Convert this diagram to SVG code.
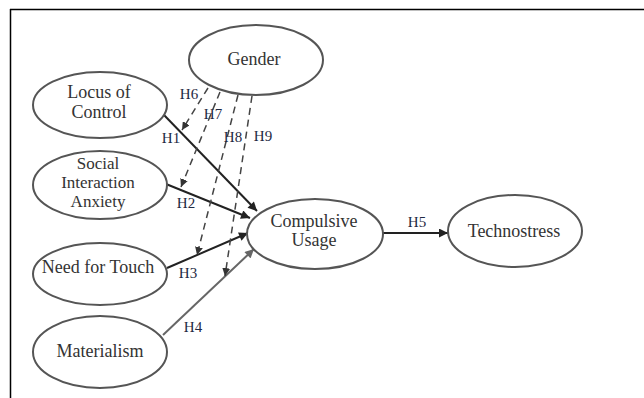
<svg xmlns="http://www.w3.org/2000/svg" width="644" height="398" viewBox="0 0 644 398">
<defs>
<style>
.node{fill:#fff;stroke:#555;stroke-width:2}
.lbl{font-family:"Liberation Serif","DejaVu Serif",serif;font-size:18px;fill:#333;text-anchor:middle}
.sm{font-size:17px}
.h{font-family:"Liberation Serif","DejaVu Serif",serif;font-size:15px;fill:#1f2a44;text-anchor:middle}
.solid{stroke:#222;stroke-width:2;fill:none}
.gray{stroke:#666;stroke-width:2;fill:none}
.dash{stroke:#444;stroke-width:1.5;fill:none;stroke-dasharray:7 5}
</style>
<marker id="a" viewBox="0 0 10 10" refX="10" refY="5" markerWidth="10" markerHeight="9" markerUnits="userSpaceOnUse" orient="auto"><path d="M0,0 L10,5 L0,10 z" fill="#222"/></marker>
<marker id="ag" viewBox="0 0 10 10" refX="10" refY="5" markerWidth="10" markerHeight="9" markerUnits="userSpaceOnUse" orient="auto"><path d="M0,0 L10,5 L0,10 z" fill="#666"/></marker>
<marker id="ad" viewBox="0 0 10 10" refX="10" refY="5" markerWidth="8" markerHeight="8" markerUnits="userSpaceOnUse" orient="auto"><path d="M0,0 L10,5 L0,10 z" fill="#333"/></marker>
</defs>
<rect width="644" height="398" fill="#fff"/>
<g id="frame" stroke="#000" stroke-width="1.5" fill="none">
<line x1="10" y1="9.5" x2="644" y2="9.5"/>
<line x1="10.5" y1="9" x2="10.5" y2="398"/>
</g>
<g id="connectors">
<line class="solid" x1="164" y1="115" x2="257" y2="211" marker-end="url(#a)"/>
<line class="solid" x1="166" y1="184" x2="250" y2="218" marker-end="url(#a)"/>
<line class="solid" x1="167" y1="268" x2="248" y2="233" marker-end="url(#a)"/>
<line class="gray" x1="163" y1="335" x2="254" y2="249" marker-end="url(#ag)"/>
<line class="solid" x1="383" y1="233" x2="448" y2="233" marker-end="url(#a)"/>
<line class="dash" x1="208" y1="88" x2="182" y2="130" marker-end="url(#ad)"/>
<line class="dash" x1="220" y1="92" x2="181" y2="187" marker-end="url(#ad)"/>
<line class="dash" x1="238" y1="95" x2="197" y2="255" marker-end="url(#ad)"/>
<line class="dash" x1="252" y1="96" x2="225" y2="276" marker-end="url(#ad)"/>
<text class="h" x="189" y="99">H6</text>
<text class="h" x="213" y="119">H7</text>
<text class="h" x="171" y="143">H1</text>
<text class="h" x="233" y="142">H8</text>
<text class="h" x="263" y="141">H9</text>
<text class="h" x="186" y="208">H2</text>
<text class="h" x="188" y="278">H3</text>
<text class="h" x="193" y="332">H4</text>
<text class="h" x="417" y="227">H5</text>
</g>
<g id="gender"><ellipse class="node" cx="256" cy="60" rx="67" ry="35"/><text class="lbl" x="254" y="65">Gender</text></g>
<g id="locus"><ellipse class="node" cx="100" cy="105" rx="67" ry="33"/><text class="lbl" x="99" y="98">Locus of</text><text class="lbl" x="99" y="118">Control</text></g>
<g id="social"><ellipse class="node" cx="100" cy="185" rx="67" ry="34"/><text class="lbl sm" x="98" y="169">Social</text><text class="lbl sm" x="98" y="188">Interaction</text><text class="lbl sm" x="98" y="207">Anxiety</text></g>
<g id="touch"><ellipse class="node" cx="100" cy="274" rx="67" ry="31"/><text class="lbl" x="98" y="273">Need for Touch</text></g>
<g id="materialism"><ellipse class="node" cx="100" cy="352" rx="67" ry="36"/><text class="lbl" x="100" y="357">Materialism</text></g>
<g id="compulsive"><ellipse class="node" cx="315" cy="234" rx="68" ry="35"/><text class="lbl" x="314" y="227">Compulsive</text><text class="lbl" x="314" y="246">Usage</text></g>
<g id="technostress"><ellipse class="node" cx="515" cy="231" rx="67" ry="36"/><text class="lbl" x="514" y="237">Technostress</text></g>
</svg>
